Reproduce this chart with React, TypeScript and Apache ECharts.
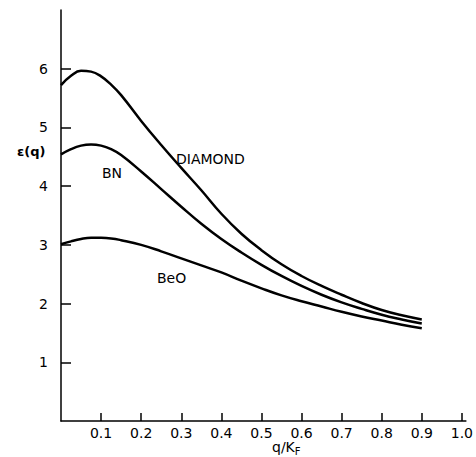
import React, { useEffect, useRef } from "react";
import * as echarts from "echarts";

const qValues = [0, 0.025, 0.05, 0.075, 0.1, 0.125, 0.15, 0.2, 0.25, 0.3, 0.35, 0.4, 0.45, 0.5, 0.55, 0.6, 0.65, 0.7, 0.75, 0.8, 0.85, 0.9];
const diamond = [5.72, 5.88, 5.965, 5.95, 5.87, 5.73, 5.55, 5.11, 4.7, 4.31, 3.93, 3.53, 3.19, 2.91, 2.67, 2.47, 2.3, 2.15, 2.01, 1.89, 1.8, 1.73];
const bn = [4.54, 4.63, 4.69, 4.71, 4.69, 4.63, 4.53, 4.25, 3.95, 3.65, 3.36, 3.1, 2.87, 2.66, 2.47, 2.3, 2.15, 2.02, 1.91, 1.81, 1.73, 1.66];
const beo = [3.01, 3.06, 3.1, 3.12, 3.12, 3.11, 3.08, 3.0, 2.89, 2.77, 2.65, 2.53, 2.39, 2.26, 2.14, 2.04, 1.95, 1.86, 1.78, 1.71, 1.64, 1.58];
const xTicks = [0.1, 0.2, 0.3, 0.4, 0.5, 0.6, 0.7, 0.8, 0.9, 1.0];
const yTicks = [1, 2, 3, 4, 5, 6];
const seriesNames = ["DIAMOND", "BN", "BeO"];

const FONT = "DejaVu Sans";

export default function App() {
  const ref = useRef<HTMLDivElement>(null);
  useEffect(() => {
    if (!ref.current) return;
    const chart = echarts.init(ref.current, null, { renderer: "svg" });
    const mk = (vals: number[]) => qValues.map((q, i) => [q, vals[i]]);
    const lineSeries = (name: string, vals: number[]) => ({
      name,
      type: "line",
      data: mk(vals),
      smooth: 0.45,
      showSymbol: false,
      symbol: "none",
      lineStyle: { color: "#000", width: 2.5 },
      z: 3,
    });
    chart.setOption({
      animation: false,
      backgroundColor: "#fff",
      grid: { left: 61, right: 10, top: 10, bottom: 36 },
      xAxis: {
        type: "value",
        min: 0,
        max: 1.01,
        axisLine: { show: true, onZero: false, lineStyle: { color: "#000", width: 1.5 } },
        axisTick: { show: true, inside: true, length: 8, customValues: xTicks, lineStyle: { color: "#000", width: 1.5 } },
        axisLabel: {
          customValues: xTicks,
          margin: 5,
          color: "#000",
          fontFamily: FONT,
          fontSize: 14,
          formatter: (v: number) => v.toFixed(1),
        },
        splitLine: { show: false },
      },
      yAxis: {
        type: "value",
        min: 0,
        max: 7,
        axisLine: { show: true, onZero: false, lineStyle: { color: "#000", width: 1.5 } },
        axisTick: { show: true, inside: true, length: 10, customValues: yTicks, lineStyle: { color: "#000", width: 1.5 } },
        axisLabel: {
          customValues: yTicks,
          margin: 13,
          color: "#000",
          fontFamily: FONT,
          fontSize: 14,
        },
        splitLine: { show: false },
      },
      series: [
        lineSeries(seriesNames[0], diamond),
        lineSeries(seriesNames[1], bn),
        lineSeries(seriesNames[2], beo),
      ],
      graphic: [
        { type: "text", left: 176, top: 152, style: { text: seriesNames[0], fill: "#000", font: `14px "${FONT}"` } },
        { type: "text", left: 102, top: 166, style: { text: seriesNames[1], fill: "#000", font: `14px "${FONT}"` } },
        { type: "text", left: 157, top: 271, style: { text: seriesNames[2], fill: "#000", font: `14px "${FONT}"` } },
        { type: "text", left: 17, top: 145, style: { text: "ε(q)", fill: "#000", font: `bold 13px "${FONT}"` } },
        {
          type: "text",
          left: 272,
          top: 440,
          style: {
            text: "{a|q/K}{b|F}",
            rich: {
              a: { fill: "#000", fontFamily: FONT, fontSize: 14 },
              b: { fill: "#000", fontFamily: FONT, fontSize: 10, padding: [8, 0, 0, 0] },
            },
          },
        },
      ],
    });
    return () => chart.dispose();
  }, []);
  return (
    <div
      ref={ref}
      style={{ position: "fixed", left: 0, top: 0, width: 476, height: 457, background: "#fff" }}
    />
  );
}
